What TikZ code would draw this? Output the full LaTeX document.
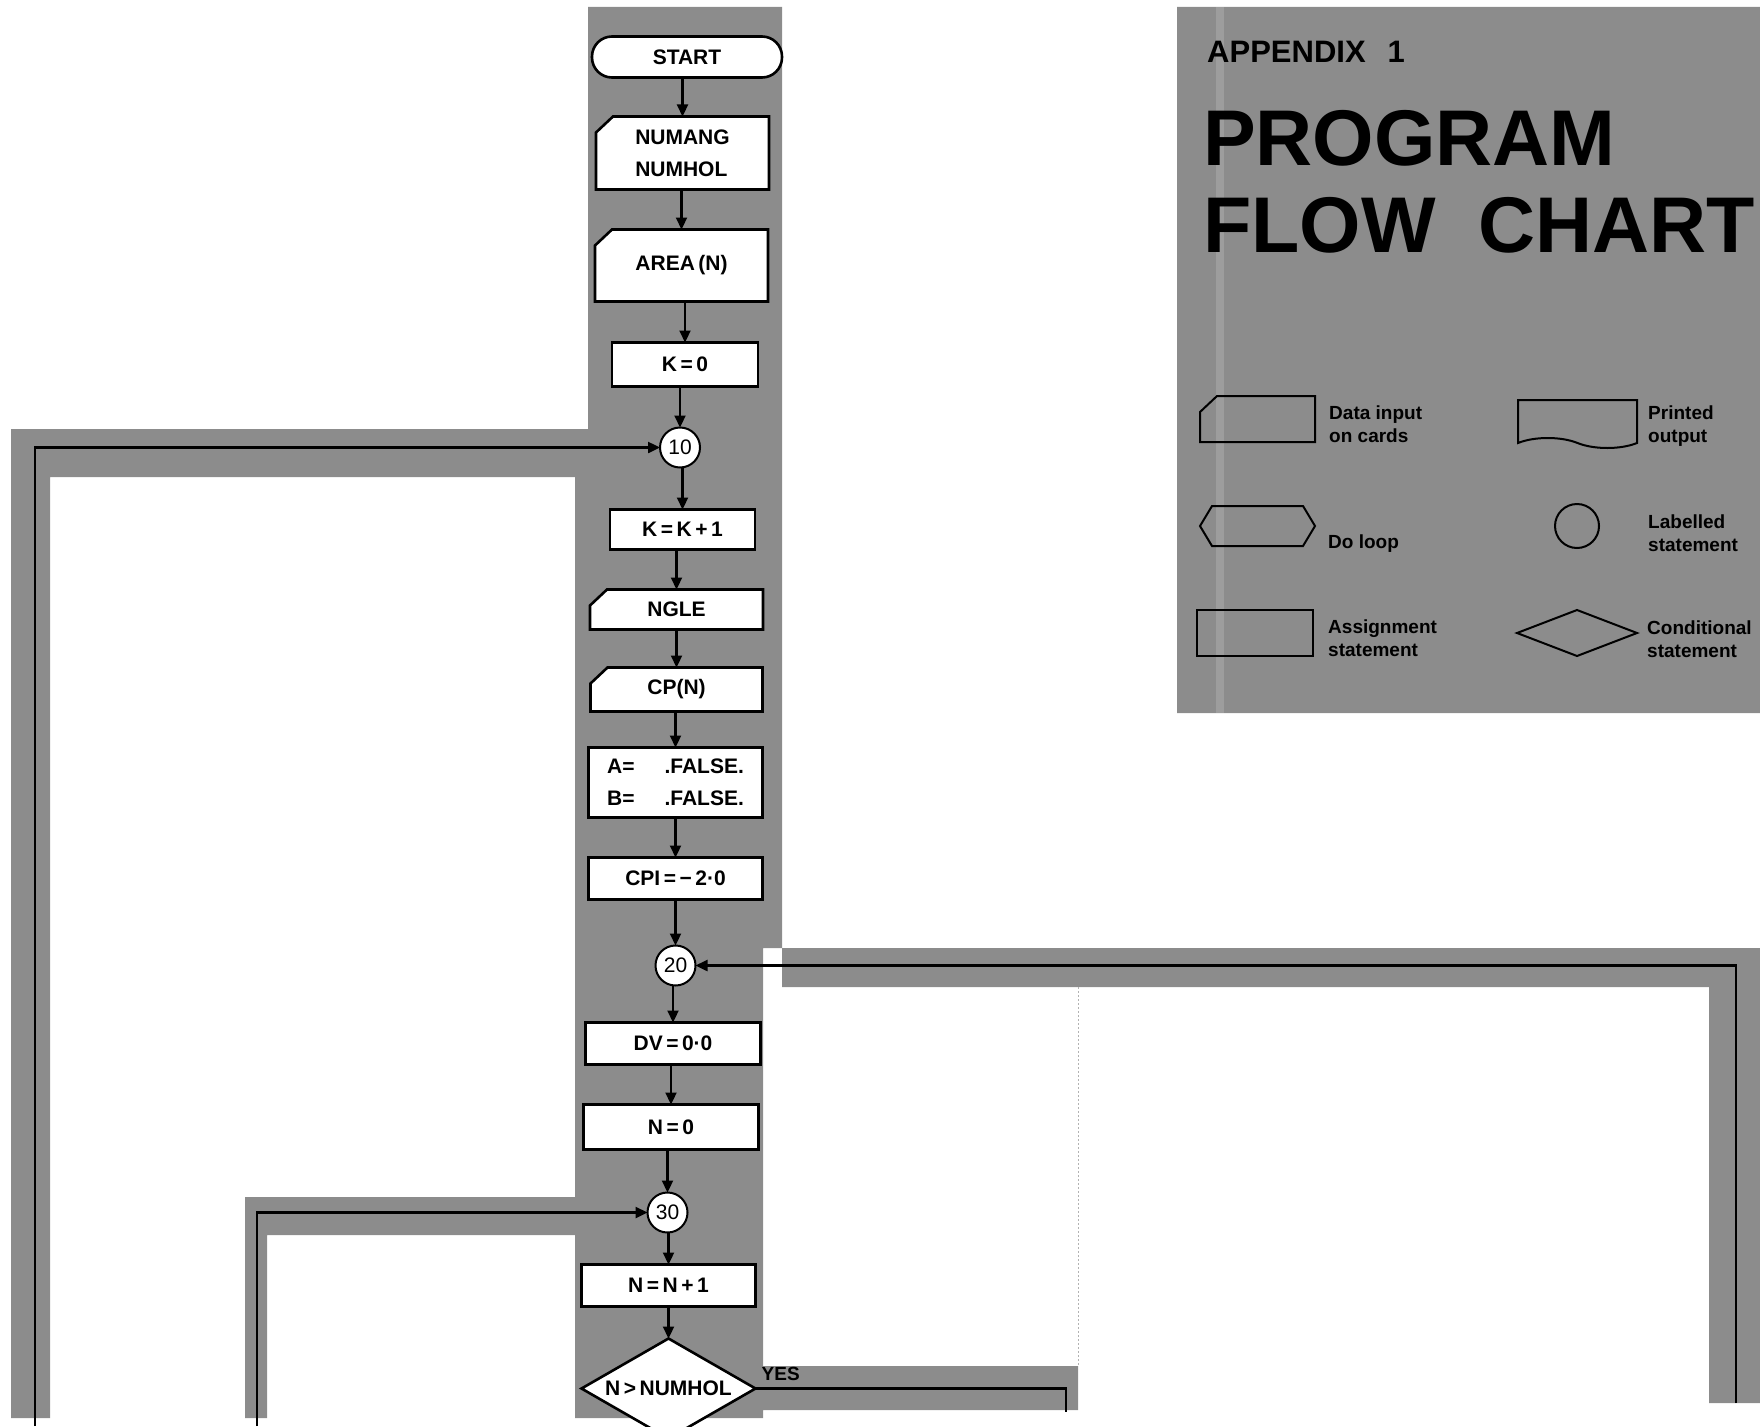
\documentclass[tikz,border=0pt]{standalone}
\usepackage{fontspec}
\setmainfont{Liberation Sans}
\usepackage{tikz}
\usetikzlibrary{arrows.meta,positioning,shapes.geometric,shapes.symbols}
\colorlet{screen}{black!45}

% punched card: a rectangle with its top left corner cut off
\makeatletter
\pgfdeclareshape{card}{%
  \inheritsavedanchors[from=rectangle]%
  \inheritanchorborder[from=rectangle]%
  \inheritanchor[from=rectangle]{center}\inheritanchor[from=rectangle]{mid}\inheritanchor[from=rectangle]{base}%
  \inheritanchor[from=rectangle]{north}\inheritanchor[from=rectangle]{south}%
  \inheritanchor[from=rectangle]{east}\inheritanchor[from=rectangle]{west}%
  \inheritanchor[from=rectangle]{north east}\inheritanchor[from=rectangle]{north west}%
  \inheritanchor[from=rectangle]{south east}\inheritanchor[from=rectangle]{south west}%
  \backgroundpath{%
    \southwest \pgf@xa=\pgf@x \pgf@ya=\pgf@y
    \northeast \pgf@xb=\pgf@x \pgf@yb=\pgf@y
    \pgf@xc=\pgf@xa \advance\pgf@xc by 17pt
    \pgf@yc=\pgf@yb \advance\pgf@yc by -16pt
    \pgfpathmoveto{\pgfqpoint{\pgf@xc}{\pgf@yb}}%
    \pgfpathlineto{\pgfqpoint{\pgf@xb}{\pgf@yb}}%
    \pgfpathlineto{\pgfqpoint{\pgf@xb}{\pgf@ya}}%
    \pgfpathlineto{\pgfqpoint{\pgf@xa}{\pgf@ya}}%
    \pgfpathlineto{\pgfqpoint{\pgf@xa}{\pgf@yc}}%
    \pgfpathclose}%
}
% do loop: flat hexagon
\pgfdeclareshape{doloop}{%
  \inheritsavedanchors[from=rectangle]%
  \inheritanchorborder[from=rectangle]%
  \inheritanchor[from=rectangle]{center}%
  \inheritanchor[from=rectangle]{north}\inheritanchor[from=rectangle]{south}%
  \inheritanchor[from=rectangle]{east}\inheritanchor[from=rectangle]{west}%
  \backgroundpath{%
    \southwest \pgf@xa=\pgf@x \pgf@ya=\pgf@y
    \northeast \pgf@xb=\pgf@x \pgf@yb=\pgf@y
    \pgf@yc=.5\pgf@ya \advance\pgf@yc by .5\pgf@yb
    \pgfpathmoveto{\pgfqpoint{\pgf@xa}{\pgf@yc}}%
    \advance\pgf@xa by 12pt \advance\pgf@xb by -12pt
    \pgfpathlineto{\pgfqpoint{\pgf@xa}{\pgf@yb}}%
    \pgfpathlineto{\pgfqpoint{\pgf@xb}{\pgf@yb}}%
    \advance\pgf@xb by 12pt
    \pgfpathlineto{\pgfqpoint{\pgf@xb}{\pgf@yc}}%
    \advance\pgf@xb by -12pt
    \pgfpathlineto{\pgfqpoint{\pgf@xb}{\pgf@ya}}%
    \pgfpathlineto{\pgfqpoint{\pgf@xa}{\pgf@ya}}%
    \pgfpathclose}%
}
\makeatother

\begin{document}
\begin{tikzpicture}[x=1pt, y=-1pt, >={Triangle[length=12pt,width=11pt]},
  font=\fontsize{21pt}{32pt}\selectfont\bfseries,
  box/.style={draw,line width=2.6pt,fill=white,inner sep=0pt,outer sep=0pt,align=center},
  term/.style={box,rounded corners=20pt,minimum height=41pt,minimum width=190pt},
  asg/.style={box,minimum width=174pt,minimum height=42pt},
  cardbox/.style={box,shape=card,minimum width=173pt},
  lab/.style={draw,circle,line width=2pt,fill=white,minimum size=40pt,inner sep=0pt,outer sep=0pt,
    font=\fontsize{21pt}{21pt}\selectfont\mdseries},
  cond/.style={box,diamond,aspect=1.74,minimum width=174pt,minimum height=100pt},
  flow/.style={->,line width=2.2pt},
  backline/.style={->,line width=2.4pt},
  sym/.style={draw,line width=2pt,inner sep=0pt,outer sep=0pt},
  legtxt/.style={inner sep=0pt,anchor=base west,align=left,font=\fontsize{19pt}{23pt}\selectfont\bfseries}]
  \useasboundingbox (0,0) rectangle (1760,1426);
  % screened backing of the page
  \fill[screen] (588,7) rectangle (782,948) (575,477) rectangle (782,948) (575,948) rectangle (763,1418)
    (11,429) rectangle (588,477) (11,429) rectangle (50,1418)
    (782,948) rectangle (1760,987) (1709,948) rectangle (1760,1403)
    (245,1197) rectangle (575,1235) (245,1197) rectangle (267,1418)
    (763,1366) rectangle (1078,1410) (1177,7) rectangle (1760,713);
  \fill[white,opacity=.15] (1216,7) rectangle (1224,713);
  \draw[black!30,line width=1pt,dash pattern=on 2pt off 2pt] (1078,987) -- (1078,1366);

  % main column
  \node[term] (start) at (687,57) {START};
  \node[cardbox,minimum height=73pt,below=39pt of start,xshift=-4.5pt,align=left] (cards) {NUMANG\\NUMHOL};
  \node[cardbox,minimum height=72pt,below=40pt of cards,xshift=-1pt] (area) {AREA\,(N)};
  \node[asg,minimum width=146pt,minimum height=44pt,below=41pt of area,xshift=3.5pt] (kzero) {K\,=\,0};
  \node[lab,below=41pt of kzero,xshift=-5pt] (ten) {10};
  \node[asg,minimum width=145pt,minimum height=40pt,below=42pt of ten,xshift=2.5pt] (kinc) {K\,=\,K\,+\,1};
  \node[cardbox,minimum height=40pt,below=40pt of kinc,xshift=-6pt] (ngle) {NGLE};
  \node[cardbox,minimum width=172pt,minimum height=44pt,below=38pt of ngle] (cpn) {CP(N)};
  \node[asg,minimum height=70pt,below=36pt of cpn,xshift=-1pt,align=left] (flags) {A=\hspace{30pt}.FALSE.\\B=\hspace{30pt}.FALSE.};
  \node[asg,below=40pt of flags] (cpi) {CPI\,=\,−\,2·0};
  \node[lab,below=46pt of cpi] (twenty) {20};
  \node[asg,minimum width=175pt,below=37pt of twenty,xshift=-2.5pt] (dv) {DV\,=\,0·0};
  \node[asg,minimum width=175pt,minimum height=45pt,below=40pt of dv,xshift=-2pt] (nzero) {N\,=\,0};
  \node[lab,below=43pt of nzero,xshift=-3.5pt] (thirty) {30};
  \node[asg,below=32pt of thirty,xshift=1pt] (ninc) {N\,=\,N\,+\,1};
  \node[cond,below=32pt of ninc] (test) {N\,>\,NUMHOL};

  \draw[flow] (cards |- start.south) -- (cards); \draw[flow] (area |- cards.south) -- (area);
  \draw[flow] (kzero |- area.south) -- (kzero); \draw[flow] (ten |- kzero.south) -- (ten);
  \draw[flow] (kinc |- ten.south) -- (kinc); \draw[flow] (ngle |- kinc.south) -- (ngle);
  \draw[flow] (cpn |- ngle.south) -- (cpn); \draw[flow] (flags |- cpn.south) -- (flags);
  \draw[flow] (cpi |- flags.south) -- (cpi); \draw[flow] (twenty |- cpi.south) -- (twenty);
  \draw[flow] (dv |- twenty.south) -- (dv); \draw[flow] (nzero |- dv.south) -- (nzero);
  \draw[flow] (thirty |- nzero.south) -- (thirty); \draw[flow] (ninc |- thirty.south) -- (ninc);
  \draw[flow] (test |- ninc.south) -- (test);

  % loops coming back from further down the page
  \coordinate (foot10) at (35,1426);
  \coordinate (foot20) at (1736,1403);
  \coordinate (foot30) at (257,1426);
  \coordinate (yesend) at (1066,1412);
  \draw[backline] (foot10) |- (ten);
  \draw[backline] (foot20) |- (twenty);
  \draw[backline] (foot30) |- (thirty);
  \draw[line width=2.2pt] (test.east) -| (yesend);
  \node[inner sep=0pt,anchor=base west,font=\fontsize{19pt}{19pt}\selectfont\bfseries] (yes) at ([xshift=6pt,yshift=8pt]test.east) {YES};

  % title panel
  \node[inner sep=0pt,anchor=base west,font=\fontsize{31pt}{31pt}\selectfont\bfseries] (appx) at (1207,63) {APPENDIX\hspace{22pt}1};
  \node[inner sep=0pt,anchor=base west,align=left,font=\fontsize{79pt}{87pt}\selectfont\bfseries] (title) at (1203,252) {PROGRAM\\FLOW\hspace{43pt}CHART};

  % key to the symbols
  \node[sym,shape=card,minimum width=115pt,minimum height=46pt] (kcard) at (1257.5,419) {};
  \node[sym,shape=doloop,minimum width=115pt,minimum height=40pt,below=64pt of kcard] (kloop) {};
  \node[sym,minimum width=116pt,minimum height=46pt,below=64pt of kloop,xshift=-2.5pt] (kasg) {};
  \node[sym,tape,tape bend top=none,tape bend bottom=out and in,tape bend height=10pt,
    minimum width=119pt,minimum height=48pt,right=203pt of kcard] (kprint) {};
  \node[sym,circle,minimum size=44pt,right=240pt of kloop] (klab) {};
  \node[sym,diamond,minimum width=120pt,minimum height=46pt,right=204pt of kasg] (kcond) {};
  \node[legtxt] (tcard) at ([xshift=14pt,yshift=-23pt]kcard.east) {Data input\\on cards};
  \node[legtxt] (tprint) at ([xshift=11pt,yshift=-23pt]kprint.east) {Printed\\output};
  \node[legtxt] (tloop) at ([xshift=13pt,yshift=-22pt]kloop.east) {Do loop};
  \node[legtxt] (tlab) at ([xshift=49pt,yshift=-25pt]klab.east) {Labelled\\statement};
  \node[legtxt] (tasg) at ([xshift=15pt,yshift=-23pt]kasg.east) {Assignment\\statement};
  \node[legtxt] (tcond) at ([xshift=10pt,yshift=-24pt]kcond.east) {Conditional\\statement};
\end{tikzpicture}
\end{document}
